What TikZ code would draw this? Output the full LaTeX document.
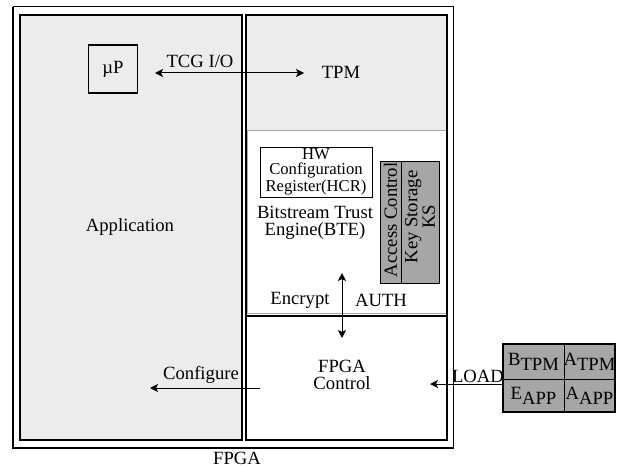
\documentclass[tikz,border=0pt]{standalone}
\usepackage{fontspec}
\setmainfont{Liberation Serif}
\usetikzlibrary{arrows.meta}
\definecolor{panelgray}{RGB}{236,236,236}
\definecolor{boxgray}{RGB}{166,166,166}
\tikzset{every picture/.style={line width=0.75pt}}
\tikzset{
  lbl/.style={font=\fontsize{14}{13}\selectfont, align=center, inner sep=0pt},
  hcrlbl/.style={font=\fontsize{12.5}{11.2}\selectfont, align=center, inner sep=0pt},
  panel/.style={line width=1.2pt},
  arrone/.style={-{Stealth[length=6pt,width=6pt,inset=1.5pt]}},
  arrtwo/.style={{Stealth[length=6pt,width=6pt,inset=1.5pt]}-{Stealth[length=6pt,width=6pt,inset=1.5pt]}},
}

\begin{document}
\begin{tikzpicture}[x=0.75pt,y=0.75pt,yscale=-1,xscale=1]
	\useasboundingbox (0,0) rectangle (624,467);

	%Shape: Rectangle [FPGA]
	\draw  (13,7) rectangle (453,448) ;
	\draw  [line width=1.5pt] (13,7) -- (13,448) -- (453,448) ;
	%Shape: Rectangle [Application]
	\draw  [panel][fill=panelgray] (20,15) rectangle (242,440) ;
	%Shape: Rectangle [TPM]
	\fill  [panelgray] (246,15) rectangle (447,130) ;
	%Shape: Rectangle [BTE]
	\draw  [gray!70,line width=0.6pt] (247,130) rectangle (446,313) ;
	%Shape: Rectangle [right column]
	\draw  [panel] (246,15) rectangle (447,440) ;
	%Straight Lines [FPGA Control top]
	\draw  [panel] (246,316) -- (447,316) ;

	%Shape: Rectangle [Key Storage]
	\draw  [fill=boxgray] (380,161) rectangle (439,283) ;
	\draw  (401,161) -- (401,283) ;

	%Shape: Rectangle [keys]
	\draw  [panel][fill=boxgray] (503,344) rectangle (615,412) ;
	\draw  (564,344) -- (564,412) ;
	\draw  (503,379) -- (615,379) ;

	% Text Node
	\node [lbl,draw,panel,minimum width=36.75pt,minimum height=36pt] (up) at (113,69) {µP};
	% Text Node
	\node [lbl] (tcg) at (200,61) {TCG I/O};
	% Text Node
	\node [lbl] (tpm) at (341,72) {TPM};
	% Text Node
	\node [lbl] (app) at (130,227) {Application};
	% Text Node
	\node [hcrlbl,draw,minimum width=84pt,minimum height=37.5pt] (hcr) at (316,172) {HW\\Configuration\\Register(HCR)};
	% Text Node
	\node [lbl] (bte) at (315,223) {Bitstream Trust\\Engine(BTE)};
	% Text Node
	\node [lbl,rotate=90] (ac) at (390.5,220) {Access Control};
	% Text Node
	\node [lbl,rotate=90] (ks) at (420,217) {Key Storage\\KS};
	% Text Node
	\node [lbl] (enc) at (300,300) {Encrypt};
	% Text Node
	\node [lbl] (auth) at (381,300) {AUTH};
	% Text Node
	\node [lbl] (ctrl) at (342,375) {FPGA\\Control};
	% Text Node
	\node [lbl] (cfg) at (201,375) {Configure};
	% Text Node
	\node [lbl] (load) at (478,376) {LOAD};
	% Text Node
	\node [lbl] (fpga) at (237,458) {FPGA};
	% Text Node
	\node [lbl] (btpm) at (533.5,361.5) {B\raisebox{-0.6ex}{TPM}};
	\node [lbl] (atpm) at (589.5,361.5) {A\raisebox{-0.6ex}{TPM}};
	\node [lbl] (eapp) at (533.5,395.5) {E\raisebox{-0.6ex}{APP}};
	\node [lbl] (aapp) at (589.5,395.5) {A\raisebox{-0.6ex}{APP}};

	%Straight Lines [arrows]
	\coordinate (tcgL) at (155,73);
	\coordinate (tcgR) at (304,73);
	\draw  [arrtwo] (tcgL) -- (tcgR) ;
	\coordinate (bteIn) at (342,273);
	\coordinate (ctrlIn) at (342,338);
	\draw  [arrtwo] (bteIn) -- (ctrlIn) ;
	\coordinate (cfgS) at (260,388);
	\coordinate (cfgE) at (150,388);
	\draw  [arrone] (cfgS) -- (cfgE) ;
	\coordinate (loadS) at (503,384);
	\coordinate (loadE) at (430,384);
	\draw  [arrone] (loadS) -- (loadE) ;

\end{tikzpicture}
\end{document}
